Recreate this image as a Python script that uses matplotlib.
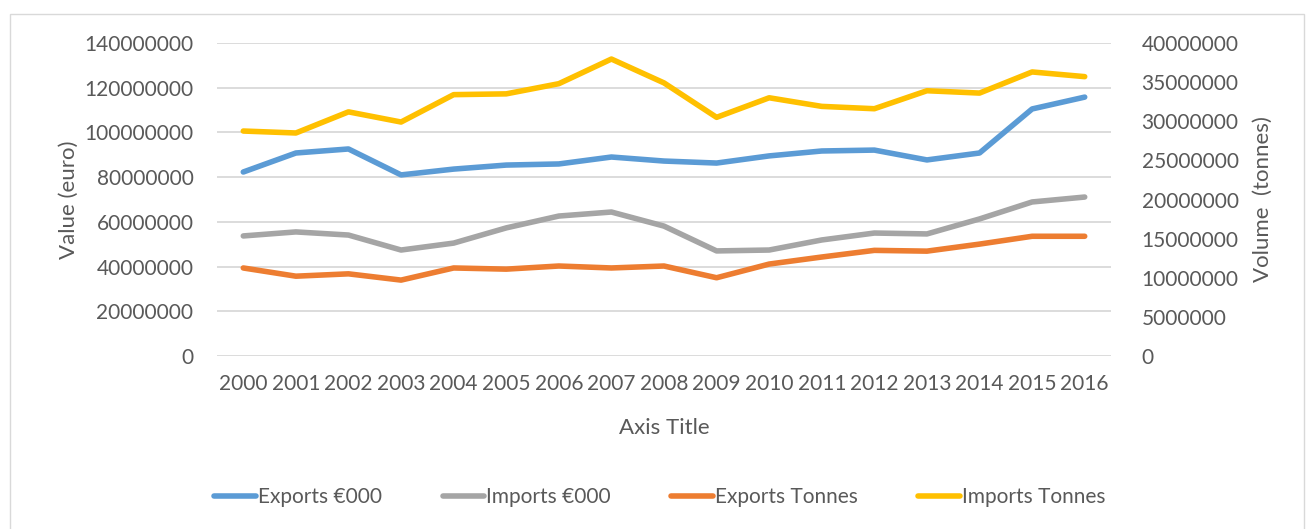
import matplotlib.pyplot as plt
from matplotlib.patches import Rectangle

# inputs
years = [str(y) for y in range(2000, 2017)]
exports_eur = [82300000, 90800000, 92600000, 81000000, 83600000, 85400000, 85900000, 89000000,
               87200000, 86300000, 89500000, 91700000, 92100000, 87700000, 90800000, 110500000, 115800000]
imports_eur = [53700000, 55500000, 54100000, 47400000, 50500000, 57300000, 62600000, 64400000,
               58100000, 47000000, 47400000, 51900000, 55000000, 54600000, 61300000, 68900000, 71100000]
exports_t = [11250000, 10200000, 10500000, 9700000, 11250000, 11100000, 11500000, 11250000,
             11500000, 10000000, 11750000, 12650000, 13500000, 13400000, 14300000, 15300000, 15300000]
imports_t = [28750000, 28500000, 31200000, 29900000, 33400000, 33500000, 34800000, 37950000,
             34900000, 30500000, 33000000, 31900000, 31600000, 33900000, 33600000, 36300000, 35700000]

txt = '#595959'
plt.rcParams['font.family'] = ['Lato', 'DejaVu Sans']

fig = plt.figure(figsize=(13.09, 5.29), dpi=100)
fig.patches.append(Rectangle((10 / 1309, -0.1), 1294 / 1309, 1.1 - 14 / 529, transform=fig.transFigure,
                             fill=False, edgecolor='#d9d9d9', lw=1))
ax1 = fig.add_axes([217 / 1309, 1 - 356 / 529, 894 / 1309, 313 / 529])
ax2 = ax1.twinx()

x = range(len(years))
lw = 4
l1, = ax1.plot(x, exports_eur, color='#5B9BD5', lw=lw, solid_capstyle='round', label='Exports €000')
l2, = ax1.plot(x, imports_eur, color='#A5A5A5', lw=lw, solid_capstyle='round', label='Imports €000')
l3, = ax2.plot(x, exports_t, color='#ED7D31', lw=lw, solid_capstyle='round', label='Exports Tonnes')
l4, = ax2.plot(x, imports_t, color='#FFC000', lw=lw, solid_capstyle='round', label='Imports Tonnes')

ax1.set_xlim(-0.5, len(years) - 0.5)
ax1.set_ylim(0, 140000000)
ax2.set_ylim(0, 40000000)
ax1.set_yticks(range(0, 140000001, 20000000))
ax2.set_yticks(range(0, 40000001, 5000000))
ax1.set_yticklabels([str(v) for v in range(0, 140000001, 20000000)])
ax2.set_yticklabels([str(v) for v in range(0, 40000001, 5000000)])
ax1.set_xticks(list(x))
ax1.set_xticklabels(years)
ax1.yaxis.grid(True, color='#d9d9d9', lw=1.3)
ax1.set_axisbelow(True)

for ax in (ax1, ax2):
    for s in ax.spines.values():
        s.set_visible(False)
    ax.tick_params(length=0, labelsize=15, colors=txt)
ax1.tick_params(axis='y', pad=17)
ax1.tick_params(axis='x', pad=13)
ax2.tick_params(axis='y', pad=22)

ax1.set_ylabel('Value (euro)', fontsize=16, color=txt, labelpad=4)
ax2.set_ylabel('Volume  (tonnes)', fontsize=16, color=txt, labelpad=10)
ax1.set_xlabel('Axis Title', fontsize=16, color=txt, labelpad=17)

fig.legend(handles=[l1, l2, l3, l4], loc='center', bbox_to_anchor=(660 / 1309, 1 - 497 / 529),
           ncol=4, frameon=False, fontsize=15, labelcolor=txt, handlelength=2.0,
           handletextpad=0.1, columnspacing=2.9)

plt.savefig('out.png', dpi=100)
